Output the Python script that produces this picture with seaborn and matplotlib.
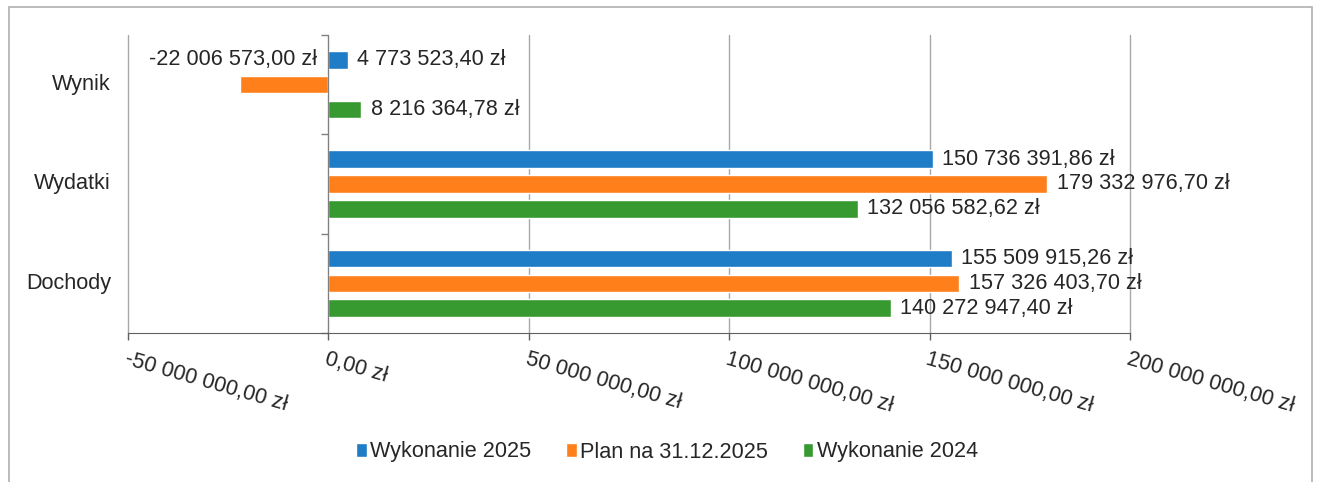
import numpy as np
import pandas as pd
import matplotlib
matplotlib.use("Agg")
import matplotlib.pyplot as plt
import matplotlib.ticker as mticker
import matplotlib.transforms as mtransforms
from matplotlib.patches import Patch, Rectangle
import seaborn as sns

# data
categories = ["Wynik", "Wydatki", "Dochody"]
series_names = ["Wykonanie 2025", "Plan na 31.12.2025", "Wykonanie 2024"]
wykonanie_2025 = [4773523.40, 150736391.86, 155509915.26]
plan_2025 = [-22006573.00, 179332976.70, 157326403.70]
wykonanie_2024 = [8216364.78, 132056582.62, 140272947.40]
colors = ["#1f7cc6", "#ff7f1a", "#379a30"]

rows = []
for name, vals in zip(series_names, [wykonanie_2025, plan_2025, wykonanie_2024]):
    for cat, v in zip(categories, vals):
        rows.append({"kategoria": cat, "seria": name, "wartosc": v})
df = pd.DataFrame(rows)


def pln(v):
    s = f"{v:,.2f}".replace(",", " ").replace(".", ",")
    return s + " zł"


sns.set_style("white")
plt.rcParams["font.family"] = ["Liberation Sans", "DejaVu Sans"]
FS = 15.6

fig = plt.figure(figsize=(13.23, 4.82), dpi=100)
ax = fig.add_axes([128 / 1323, 1 - 333 / 482, 1002 / 1323, 298 / 482])

sns.barplot(data=df, x="wartosc", y="kategoria", hue="seria", order=categories,
            hue_order=series_names, palette=colors, width=0.75, gap=0.3,
            errorbar=None, legend=False, saturation=1, ax=ax)

ax.set_xlim(-50e6, 200e6)
ax.set_ylim(2.5, -0.5)
ax.xaxis.set_major_locator(mticker.MultipleLocator(50e6))
ax.xaxis.set_major_formatter(mticker.FuncFormatter(lambda v, p: pln(v)))
ax.grid(axis="x", color="#a8a8a8", linewidth=1)
ax.set_axisbelow(True)
ax.set_xlabel("")
ax.set_ylabel("")
for gl in ax.get_xgridlines():
    gl.set_clip_on(False)

for s in ["top", "right"]:
    ax.spines[s].set_visible(False)
ax.spines["bottom"].set_color("#606060")
ax.spines["left"].set_position(("data", 0))
ax.spines["left"].set_color("#808080")

ax.tick_params(axis="x", direction="out", length=5, width=1, color="#606060",
               pad=6, labelsize=FS, bottom=True)
for lab in ax.get_xticklabels():
    lab.set_rotation(-16)
    lab.set_ha("left")
    lab.set_va("top")
    lab.set_rotation_mode("anchor")

# category ticks sit between groups, names sit left of the plot
ax.set_yticks(np.arange(len(categories) + 1) - 0.5, minor=True)
ax.tick_params(axis="y", which="major", length=0, labelleft=False)
ax.tick_params(axis="y", which="minor", length=5, width=1, color="#808080", left=True)
trans = mtransforms.blended_transform_factory(ax.transAxes, ax.transData)
for i, cat in enumerate(categories):
    ax.text(-0.017, i, cat, transform=trans, ha="right", va="center", fontsize=FS)

# data labels
for cont in ax.containers:
    for patch in cont.patches:
        v = patch.get_width()
        yc = patch.get_y() + patch.get_height() / 2
        if v >= 0:
            ax.annotate(pln(v), xy=(v, yc), xytext=(7, 0), textcoords="offset points",
                        ha="left", va="center", fontsize=FS)
        else:
            ax.annotate(pln(v), xy=(0, yc), xytext=(-8, 18), textcoords="offset points",
                        ha="right", va="center", fontsize=FS)

handles = [Patch(facecolor=c, label=n) for c, n in zip(colors, series_names)]
fig.legend(handles=handles, loc="center", bbox_to_anchor=(667 / 1323, 1 - 452 / 482),
           ncol=3, frameon=False, fontsize=FS, handlelength=0.5, handleheight=0.6,
           handletextpad=0.15, columnspacing=1.6)

fig.patches.append(Rectangle((9 / 1323, -0.02), 1303 / 1323, 1.02 - 7 / 482,
                             transform=fig.transFigure, fill=False,
                             edgecolor="#b0b0b0", linewidth=1.2))

fig.savefig("out.png", dpi=100)
